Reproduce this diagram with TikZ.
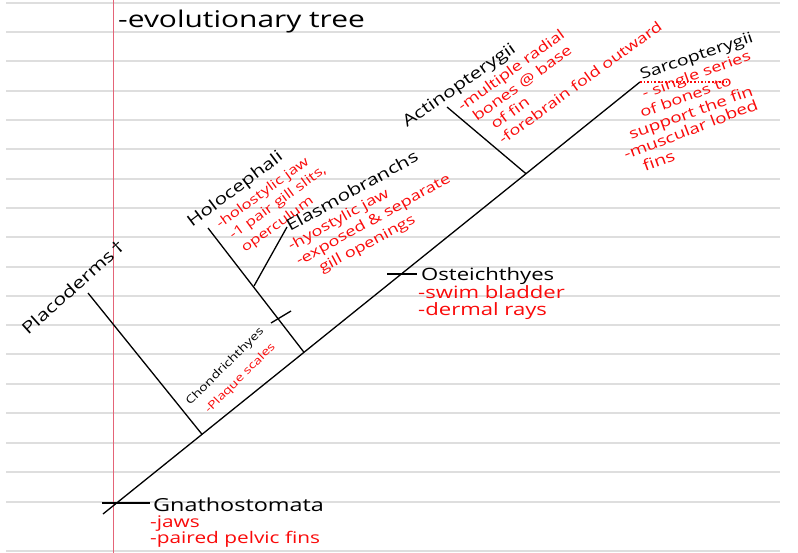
\documentclass[tikz,border=0pt]{standalone}
\usepackage{fontspec}
\setmainfont{Open Sans}[FakeStretch=1.3]
\usetikzlibrary{calc}
\definecolor{InkRed}{RGB}{250,10,10}
\definecolor{RuleGray}{RGB}{222,222,222}
\definecolor{MarginRed}{RGB}{228,100,120}
\tikzset{
  rule/.style={RuleGray,line width=1.2pt},
  margin/.style={MarginRed,line width=0.9pt},
  branch/.style={black,line width=1.3pt},
  taxon/.style={black,inner sep=0pt,anchor=base west,
    font=\fontsize{#1}{#1}\selectfont},
  trait/.style={InkRed,inner sep=0pt,anchor=base west,
    font=\fontsize{#1}{#1}\selectfont}
}

\begin{document}
\begin{tikzpicture}[x=1pt,y=-1pt]
\useasboundingbox (0,0) rectangle (798,553);
\fill[white] (0,0) rectangle (798,553);

% ruled page
\foreach \y in {3,32,61,91,120,149,179,208,237,267,296,325,354,384,413,443,472,502,551}
  \draw[rule] (6,\y) -- (780,\y);
\draw[margin] (113,0) -- (113,553);

\node[taxon=23] (title) at (118,28) {-evolutionary tree};

% main stem
\coordinate (root) at (103,514);
\coordinate (sarco) at (640,82);
\draw[branch] (root) -- (sarco);

\coordinate (placoJ) at ($(root)!0.1844!(sarco)$);
\coordinate (chondJ) at ($(root)!0.3743!(sarco)$);
\coordinate (actinoJ) at ($(root)!0.7877!(sarco)$);

% side branches
\coordinate (placoTop) at (88,293);
\coordinate (holoTop) at (208,228);
\coordinate (elasJ) at (254,286);
\coordinate (elasTop) at (287,227);
\coordinate (actinoTop) at (447,107);
\draw[branch] (placoTop) -- (placoJ);
\draw[branch] (holoTop) -- (chondJ);
\draw[branch] (elasJ) -- (elasTop);
\draw[branch] (actinoTop) -- (actinoJ);

% ticks
\coordinate (gnathoL) at (102,503);
\coordinate (gnathoR) at (150,503);
\coordinate (osteoL) at (387,274);
\coordinate (osteoR) at (417,274);
\coordinate (chondL) at (271,323);
\coordinate (chondR) at (291,311);
\draw[branch] (gnathoL) -- (gnathoR);
\draw[branch] (osteoL) -- (osteoR);
\draw[branch] (chondL) -- (chondR);

\coordinate (sarcoDots) at (727,82);
\draw[InkRed,line width=1.6pt,dotted] (sarco) -- (sarcoDots);

% Gnathostomata
\node[taxon=18] (gnatho) at (153,511) {Gnathostomata};
\node[trait=16] (jaws) at (150,527) {-jaws};
\node[trait=16] (pelvic) at (150,543) {-paired pelvic fins};

% Placoderms
\node[taxon=16.5,rotate=42] (placo) at (28,336) {Placoderms\,†};

% Chondrichthyes
\node[taxon=11,rotate=45] (chond) at (190,406) {Chondrichthyes};
\node[trait=11,rotate=45] (scales) at (209,414) {-Plaque scales};

% Holocephali
\node[taxon=16,rotate=37] (holo) at (192,228) {Holocephali};
\node[trait=13,rotate=36] (holoA) at (220,229) {-holostylic jaw};
\node[trait=13,rotate=36] (holoB) at (233,240) {-1 pair gill slits,};
\node[trait=13,rotate=36] (holoC) at (245,253) {operculum};

% Elasmobranchs
\node[taxon=16,rotate=29] (elas) at (290,232) {Elasmobranchs};
\node[trait=14,rotate=29] (elasA) at (291,251) {-hyostylic jaw};
\node[trait=14,rotate=29] (elasB) at (299,266) {-exposed \& separate};
\node[trait=14,rotate=28] (elasC) at (322,273) {gill openings};

% Osteichthyes
\node[taxon=17] (osteo) at (421,281) {Osteichthyes};
\node[trait=17] (osteoA) at (418,299) {-swim bladder};
\node[trait=17] (osteoB) at (418,316) {-dermal rays};

% Actinopterygii
\node[taxon=16,rotate=35] (actino) at (407,128) {Actinopterygii};
\node[trait=14,rotate=36] (actinoA) at (462,112) {-multiple radial};
\node[trait=14,rotate=36] (actinoB) at (477,122) {bones @ base};
\node[trait=14,rotate=36] (actinoC) at (495,130) {of fin};
\node[trait=14,rotate=36] (actinoD) at (503,145) {-forebrain fold outward};

% Sarcopterygii
\node[taxon=15,rotate=19] (sarcoLbl) at (642,80) {Sarcopterygii};
\node[trait=14,rotate=20] (sarcoA) at (644,99) {- single series};
\node[trait=14,rotate=20] (sarcoB) at (642,118) {of bones to};
\node[trait=14.5,rotate=20] (sarcoC) at (631,140) {support the fin};
\node[trait=14.5,rotate=21] (sarcoD) at (626,160) {-muscular lobed};
\node[trait=15,rotate=20] (sarcoE) at (645,172) {fins};

\end{tikzpicture}
\end{document}
